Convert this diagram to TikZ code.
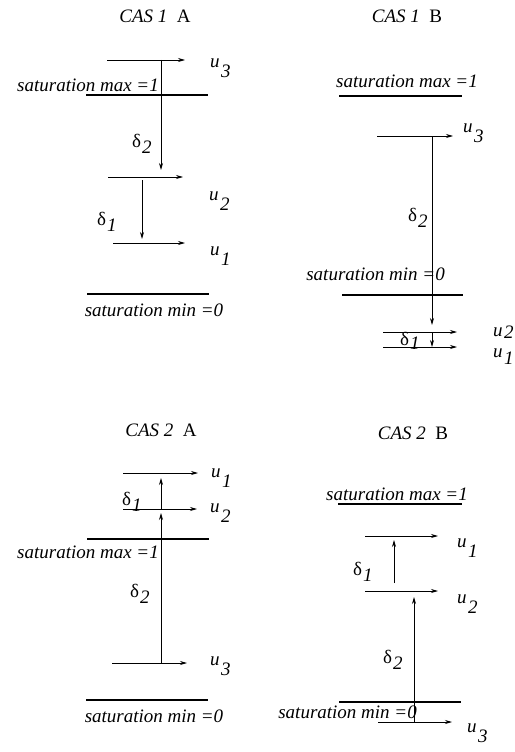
\documentclass[tikz,border=0pt]{standalone}
\usepackage{fontspec}
\setmainfont{Liberation Serif}
\usetikzlibrary{arrows.meta,positioning}
\newcommand{\ulab}[1]{\textit{u}\hspace{1.5pt}\raisebox{-10pt}{\textit{#1}}}
\newcommand{\dlab}[1]{δ\hspace{1pt}\raisebox{-6pt}{\textit{#1}}}

\begin{document}
\begin{tikzpicture}[
  x=1pt, y=-1pt,
  every node/.style={inner sep=0pt, font=\fontsize{19}{21}\selectfont},
  ttl/.style={anchor=base},
  sat/.style={font=\fontsize{19}{21}\selectfont\itshape},
  lbl/.style={anchor=base west},
  bar/.style={line width=2.6pt},
  arr/.style={-{Stealth[length=7pt,width=4pt]}, line width=0.7pt}
]
\useasboundingbox (0,0) rectangle (514,752);

% CAS 1 A
\node[ttl] (c1a-t) at (155,23) {\textit{CAS\ 1}\ \ A};
\coordinate (c1a-maxw) at (86,95); \coordinate (c1a-maxe) at (208,95);
\coordinate (c1a-minw) at (87,294); \coordinate (c1a-mine) at (209,294);
\draw[bar] (c1a-maxw)--(c1a-maxe); \draw[bar] (c1a-minw)--(c1a-mine);
\node[sat, anchor=base east] (c1a-max) at (159,92) {saturation max =1};
\node[sat, anchor=base] (c1a-min) at (154,316) {saturation min =0};
\coordinate (c1a-u3w) at (107,60); \coordinate (c1a-u3e) at (185,60);
\coordinate (c1a-u2w) at (108,177); \coordinate (c1a-u2e) at (183,177);
\coordinate (c1a-u1w) at (113,243); \coordinate (c1a-u1e) at (185,243);
\draw[arr] (c1a-u3w)--(c1a-u3e); \draw[arr] (c1a-u2w)--(c1a-u2e); \draw[arr] (c1a-u1w)--(c1a-u1e);
\node[lbl] (c1a-u3) at (210,67) {\ulab{3}};
\node[lbl] (c1a-u2) at (209,200) {\ulab{2}};
\node[lbl] (c1a-u1) at (210,255) {\ulab{1}};
\coordinate (c1a-d2s) at (161,60); \coordinate (c1a-d2e) at (161,170);
\coordinate (c1a-d1s) at (142,180); \coordinate (c1a-d1e) at (142,239);
\draw[arr] (c1a-d2s)--(c1a-d2e); \draw[arr] (c1a-d1s)--(c1a-d1e);
\node[lbl] (c1a-d2) at (132,147) {\dlab{2}};
\node[lbl] (c1a-d1) at (97,225) {\dlab{1}};

% CAS 1 B
\node[ttl] (c1b-t) at (407,23) {\textit{CAS\ 1}\ \ B};
\coordinate (c1b-maxw) at (339,96); \coordinate (c1b-maxe) at (462,96);
\coordinate (c1b-minw) at (342,295); \coordinate (c1b-mine) at (463,295);
\draw[bar] (c1b-maxw)--(c1b-maxe); \draw[bar] (c1b-minw)--(c1b-mine);
\node[sat, anchor=base] (c1b-max) at (407,87) {saturation max =1};
\node[sat, anchor=base east] (c1b-min) at (445,280) {saturation min =0};
\coordinate (c1b-u3w) at (377,136); \coordinate (c1b-u3e) at (453,136);
\coordinate (c1b-u2w) at (383,332); \coordinate (c1b-u2e) at (457,332);
\coordinate (c1b-u1w) at (383,347); \coordinate (c1b-u1e) at (457,347);
\draw[arr] (c1b-u3w)--(c1b-u3e); \draw[arr] (c1b-u2w)--(c1b-u2e); \draw[arr] (c1b-u1w)--(c1b-u1e);
\node[lbl] (c1b-u3) at (463,132) {\ulab{3}};
\node[lbl] (c1b-u2) at (493,336) {\textit{u}\hspace{1.5pt}\raisebox{-2pt}{\textit{2}}};
\node[lbl] (c1b-u1) at (493,357) {\textit{u}\hspace{1.5pt}\raisebox{-7pt}{\textit{1}}};
\coordinate (c1b-d2s) at (432,136); \coordinate (c1b-d2e) at (432,325);
\coordinate (c1b-d1s) at (432,333); \coordinate (c1b-d1e) at (432,347);
\draw[arr] (c1b-d2s)--(c1b-d2e); \draw[arr] (c1b-d1s)--(c1b-d1e);
\node[lbl] (c1b-d2) at (408,221) {\dlab{2}};
\node[lbl] (c1b-d1) at (400,345) {δ\hspace{1pt}\raisebox{-4pt}{\textit{1}}};

% CAS 2 A
\node[ttl] (c2a-t) at (161,436) {\textit{CAS 2}\ \ A};
\coordinate (c2a-maxw) at (87,539); \coordinate (c2a-maxe) at (209,539);
\coordinate (c2a-minw) at (86,700); \coordinate (c2a-mine) at (208,700);
\draw[bar] (c2a-maxw)--(c2a-maxe); \draw[bar] (c2a-minw)--(c2a-mine);
\node[sat, anchor=base east] (c2a-max) at (159,558) {saturation max =1};
\node[sat, anchor=base] (c2a-min) at (154,722) {saturation min =0};
\coordinate (c2a-u1w) at (123,473); \coordinate (c2a-u1e) at (198,473);
\coordinate (c2a-u2w) at (123,509); \coordinate (c2a-u2e) at (197,509);
\coordinate (c2a-u3w) at (112,663); \coordinate (c2a-u3e) at (187,663);
\draw[arr] (c2a-u1w)--(c2a-u1e); \draw[arr] (c2a-u2w)--(c2a-u2e); \draw[arr] (c2a-u3w)--(c2a-u3e);
\node[lbl] (c2a-u1) at (211,477) {\ulab{1}};
\node[lbl] (c2a-u2) at (210,512) {\ulab{2}};
\node[lbl] (c2a-u3) at (210,665) {\ulab{3}};
\coordinate (c2a-d1s) at (161,509); \coordinate (c2a-d1e) at (161,478);
\coordinate (c2a-d2s) at (161,663); \coordinate (c2a-d2e) at (161,513);
\draw[arr] (c2a-d1s)--(c2a-d1e); \draw[arr] (c2a-d2s)--(c2a-d2e);
\node[lbl] (c2a-d1) at (122,505) {\dlab{1}};
\node[lbl] (c2a-d2) at (130,597) {\dlab{2}};

% CAS 2 B
\node[ttl] (c2b-t) at (413,439) {\textit{CAS 2}\ \ B};
\coordinate (c2b-maxw) at (338,504); \coordinate (c2b-maxe) at (462,504);
\coordinate (c2b-minw) at (339,702); \coordinate (c2b-mine) at (461,702);
\draw[bar] (c2b-maxw)--(c2b-maxe); \draw[bar] (c2b-minw)--(c2b-mine);
\node[sat, anchor=base] (c2b-max) at (397,500) {saturation max =1};
\node[sat, anchor=base east] (c2b-min) at (417,718) {saturation min =0};
\coordinate (c2b-u1w) at (365,536); \coordinate (c2b-u1e) at (438,536);
\coordinate (c2b-u2w) at (365,591); \coordinate (c2b-u2e) at (438,591);
\coordinate (c2b-u3w) at (378,722); \coordinate (c2b-u3e) at (452,722);
\draw[arr] (c2b-u1w)--(c2b-u1e); \draw[arr] (c2b-u2w)--(c2b-u2e); \draw[arr] (c2b-u3w)--(c2b-u3e);
\node[lbl] (c2b-u1) at (457,547) {\ulab{1}};
\node[lbl] (c2b-u2) at (457,603) {\ulab{2}};
\node[lbl] (c2b-u3) at (467,732) {\ulab{3}};
\coordinate (c2b-d1s) at (394,583); \coordinate (c2b-d1e) at (394,540);
\coordinate (c2b-d2s) at (414,722); \coordinate (c2b-d2e) at (414,597);
\draw[arr] (c2b-d1s)--(c2b-d1e); \draw[arr] (c2b-d2s)--(c2b-d2e);
\node[lbl] (c2b-d1) at (353,575) {\dlab{1}};
\node[lbl] (c2b-d2) at (383,663) {\dlab{2}};
\end{tikzpicture}
\end{document}
